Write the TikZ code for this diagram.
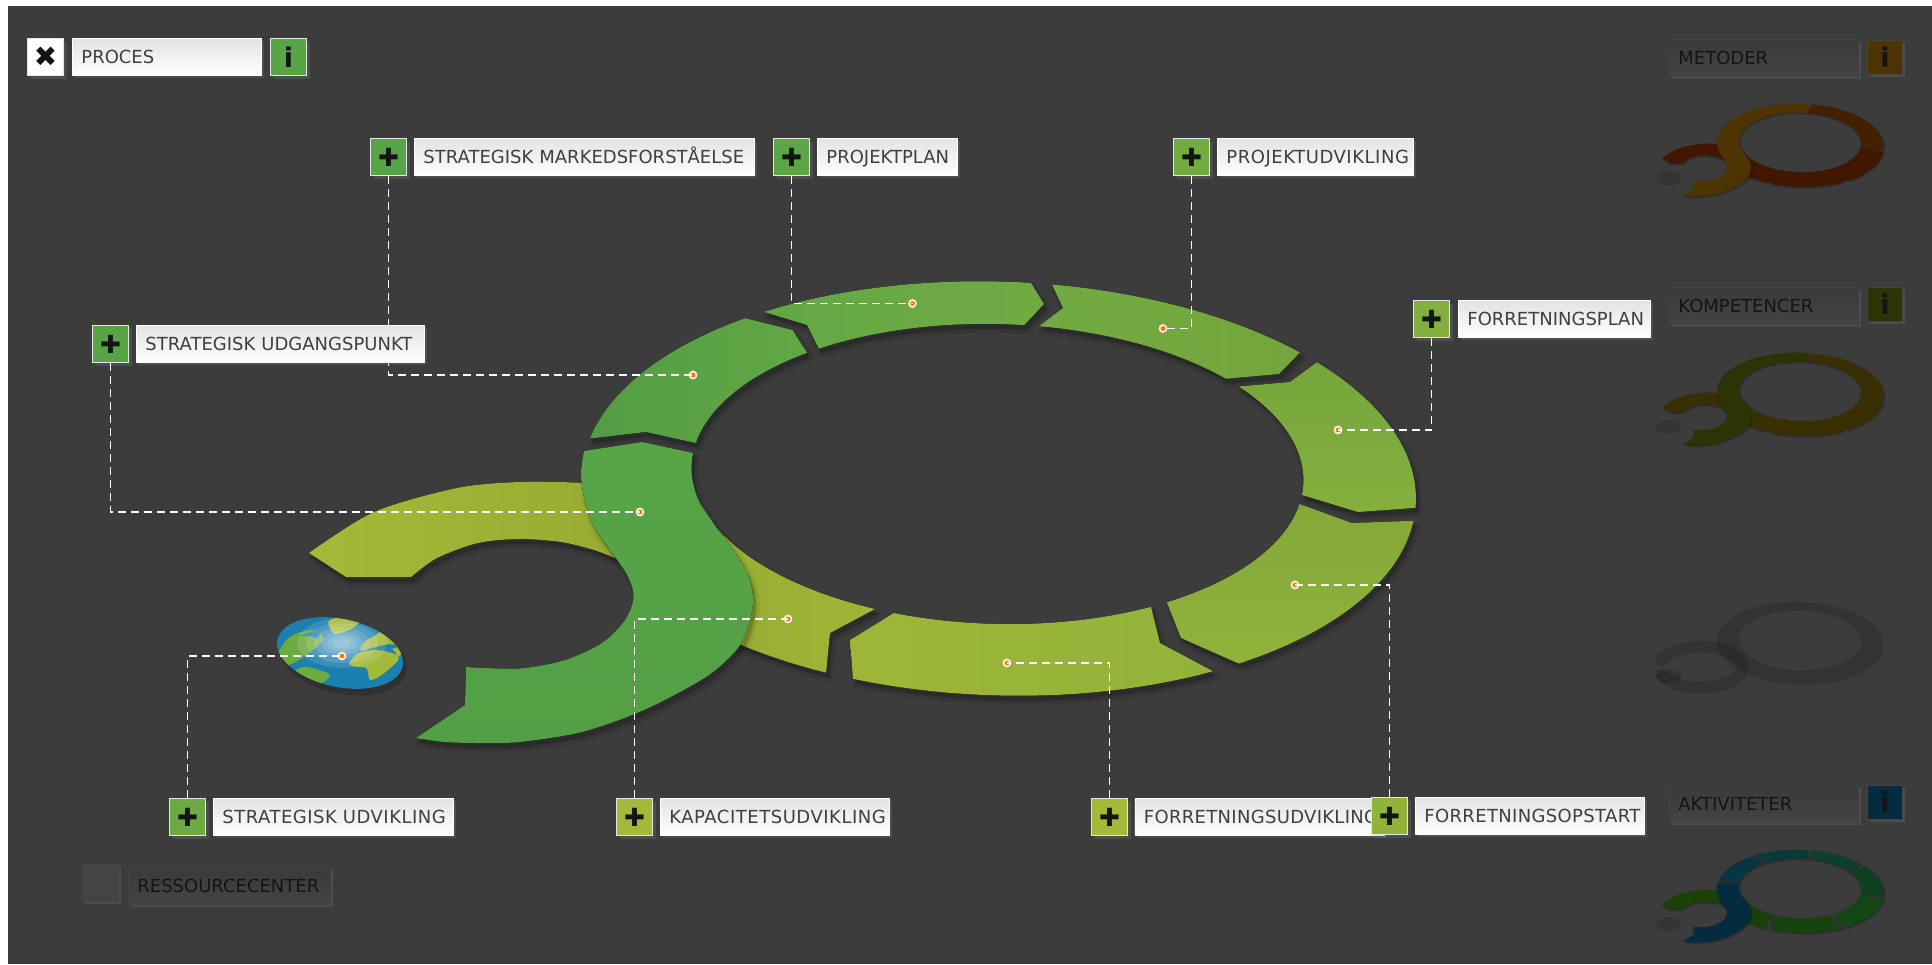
\documentclass[tikz,border=0pt]{standalone}
\usepackage{fontspec}
\setmainfont{DejaVu Sans}
\usetikzlibrary{shadows}
\definecolor{bgd}{HTML}{3C3C3C}
\definecolor{gS}{HTML}{58A548}
\definecolor{gSb}{HTML}{529F45}
\definecolor{oliveA}{HTML}{A4B937}
\definecolor{oliveB}{HTML}{9EB637}
\definecolor{txt}{HTML}{3F3F3F}
\definecolor{dtxt}{HTML}{141414}
\definecolor{dimband}{HTML}{3A3A3A}
\definecolor{dimfill}{HTML}{444444}
\definecolor{mB}{HTML}{4E3402}
\definecolor{mR}{HTML}{422000}
\definecolor{mD}{HTML}{421700}
\definecolor{kG}{HTML}{2A3405}
\definecolor{kO}{HTML}{3A2F03}
\definecolor{aA}{HTML}{042C40}
\definecolor{aB}{HTML}{083640}
\definecolor{aC}{HTML}{0A3A38}
\definecolor{aD}{HTML}{0C402A}
\definecolor{aE}{HTML}{0D4020}
\definecolor{aF}{HTML}{134515}
\definecolor{aG}{HTML}{17430E}
\definecolor{aH}{HTML}{1A4207}
\definecolor{seablue}{HTML}{1B7FB0}
\definecolor{landA}{HTML}{A2B93A}
\definecolor{landB}{HTML}{6CAB3F}
\def\ox{999+417*cos(\x)}
\def\oy{488.5+207*sin(\x)+10*cos(\x)}
\def\ix{997.5+306*cos(\x)}
\def\iy{474+150*sin(\x)+6.1*cos(\x)}
\def\shw{1}
\def\patches{}
\newcommand\seg[2]{%
  \fill[black,opacity=.05,draw=black,line width=\shw*9pt,line join=round,shift={(3,5)}] #2;
  \fill[black,opacity=.07,draw=black,line width=\shw*4pt,line join=round,shift={(3,5)}] #2;
  \fill[black,opacity=.09,shift={(2,4)}] #2;
  \fill[#1] #2;}
\newcommand\rp[3]{\fill[#1] plot[domain=#2:#3]({\ox},{\oy}) -- plot[domain=#3:#2]({\ix},{\iy}) -- cycle;}
\newcommand\logo{%
  \seg{s7}{plot[domain=113.6:160]({\ix},{\iy}) -- plot[domain=145:114.5]({\ox},{\oy}) -- (830,633) -- cycle}
  \seg{s0}{plot[smooth] coordinates {(309,553)(374,512)(457,488)(519.5,482)(582,483)(640,490)} -- (640,560) -- plot[smooth] coordinates {(615,558)(594,550)(561,542)(519.5,539)(478,543)(437,558)(411,577)} -- (346,577) -- cycle}
  \seg{s2}{plot[domain=-168.8:-127.5]({\ox},{\oy}) -- (792.5,330) -- plot[domain=-128.5:-170.4]({\ix},{\iy}) -- (646,432) -- cycle}
  \seg{s1}{plot[domain=-124.3:-85.6]({\ox},{\oy}) -- (1044,304) -- plot[domain=-85:-125.7]({\ix},{\iy}) -- (807,325) -- cycle}
  \seg{s3}{plot[domain=-82.7:-43.8]({\ox},{\oy}) -- (1279,374) -- plot[domain=-41.7:-82.2]({\ix},{\iy}) -- (1063,308) -- cycle}
  \seg{s4}{plot[domain=-40.3:2.6]({\ox},{\oy}) -- (1358,512) -- plot[domain=5.7:-38]({\ix},{\iy}) -- (1290,382) -- cycle}
  \seg{s5}{plot[domain=6.2:54.9]({\ox},{\oy}) -- (1181,638) -- plot[domain=56.4:9.2]({\ix},{\iy}) -- (1352,523) -- cycle}
  \seg{s6}{plot[domain=59.1:110.5]({\ox},{\oy}) -- (850,640) -- plot[domain=109.8:59.9]({\ix},{\iy}) -- (1160,643) -- cycle}
  \patches
  \seg{sS}{(584,451) -- (642,442) -- plot[domain=185.7:166]({\ix},{\iy}) -- plot[smooth] coordinates {(718,530)(735,552)(748,575)(753,597)(750,620)(738,648)(706,677)(644,710)(582,732)(519.5,742)(478,743)(445,742)(416,738)} -- (465,705) -- plot[smooth] coordinates {(466,667)(519.5,668.5)(565,660)(602,643)(625,620)(633.5,597)(626,573)(594,527)(584,497)(581,473)(584,451)} -- cycle}
}
\newcommand\ls[2]{{\addfontfeature{LetterSpace=#1}#2}}
\tikzset{
  every plot/.style={samples=24},
  conn/.style={draw=white,line width=1.6pt,dash pattern=on 8pt off 5pt},
  dotn/.style={circle,inner sep=0pt,minimum size=7pt,fill=orange!90!red,draw=orange!15!white,line width=1.8pt,drop shadow={shadow xshift=2pt,shadow yshift=-2pt,opacity=.25}},
  lab/.style={anchor=north west,minimum height=37pt,inner xsep=9pt,inner ysep=0pt,text height=13.5pt,text depth=0pt,align=left,top color=black!11,bottom color=white,draw=white,line width=.8pt,text=txt,font=\fontsize{18}{20}\selectfont,drop shadow={shadow xshift=3pt,shadow yshift=-3pt,opacity=.25}},
  dimlab/.style={lab,top color=dimband,bottom color=dimfill,draw=dimfill,text=dtxt},
  btn/.style={anchor=north west,minimum width=36pt,minimum height=37pt,inner sep=0pt,draw=white!90!black,line width=1pt,fill=#1,text=black!92,font=\fontsize{25}{25}\selectfont,drop shadow={shadow xshift=3pt,shadow yshift=-3pt,opacity=.25}},
  ibtn/.style={btn=#1,font=\fontsize{27}{27}\bfseries\selectfont},
  dimibtn/.style={anchor=north west,minimum width=35pt,minimum height=34pt,inner sep=0pt,fill=#1,draw=dimfill,line width=.8pt,text=black!92,font=\fontsize{27}{27}\bfseries\selectfont,drop shadow={shadow xshift=3pt,shadow yshift=-3pt,opacity=.25}},
}
\begin{document}
\begin{tikzpicture}[x=1pt,y=-1pt]
\useasboundingbox (0,0) rectangle (1932,964);
\fill[white] (0,0) rectangle (1932,964);
\fill[bgd] (8,6) rectangle (1932,964);

% main figure
\begin{scope}[
  s0/.style={left color=oliveA,right color=oliveA!92!black},
  s7/.style={left color=oliveA!92!black,right color=oliveB},
  sS/.style={top color=gS,bottom color=gSb},
  s2/.style={left color=gS!95!black,right color=gS!85!oliveB},
  s1/.style={left color=gS!85!oliveB,right color=gS!65!oliveB},
  s3/.style={left color=gS!65!oliveB,right color=gS!50!oliveB!95!black},
  s4/.style={top color=gS!50!oliveB!95!black,bottom color=gS!35!oliveB},
  s5/.style={top color=gS!30!oliveB!95!black,bottom color=gS!20!oliveB},
  s6/.style={left color=oliveB,right color=gS!18!oliveB},
]
\logo
\end{scope}

% globe
\fill[black,opacity=.2,rotate around={-12:(343,658)}] (343,658) ellipse [x radius=65,y radius=36];
\begin{scope}
\clip[rotate around={-12:(340,653)}] (340,653) ellipse [x radius=64,y radius=34];
\fill[seablue] (270,610) rectangle (410,695);
\begin{scope}[shift={(265,605)},scale=.3333]
\fill[landB] plot[smooth cycle] coordinates {(30,170)(60,110)(95,85)(150,75)(175,100)(150,130)(110,160)(70,180)};
\fill[seablue] plot[smooth cycle] coordinates {(95,92)(130,85)(165,70)(160,100)(130,92)};
\fill[landA] plot[smooth cycle] coordinates {(190,50)(230,35)(285,38)(270,65)(225,85)(205,85)};
\fill[landA] plot[smooth cycle] coordinates {(285,135)(300,110)(340,85)(370,60)(400,85)(420,125)(400,155)(385,135)(340,125)(300,135)};
\fill[landA] plot[smooth cycle] coordinates {(252,175)(280,145)(330,135)(385,145)(400,165)(350,210)(315,225)(305,190)(270,185)};
\fill[seablue] plot[smooth cycle] coordinates {(330,128)(370,118)(405,122)(370,134)};
\fill[landB] plot[smooth cycle] coordinates {(85,205)(120,185)(195,210)(150,245)(110,230)};
\end{scope}
\foreach \r in {45,36,28,21,15,9}{\fill[white,opacity=.13] (342,643) ellipse [x radius=\r,y radius=\r*.55];}
\end{scope}

% small figures
\begin{scope}[shift={(1600.6,47.6)},scale=.2,
  s0/.style={fill=mD},s7/.style={fill=mD},
  sS/.style={fill=mB},s2/.style={fill=mB},s1/.style={fill=mB},
  s3/.style={fill=mR},s4/.style={fill=mR},
  s5/.style={fill=mD},s6/.style={fill=mD}]
\def\shw{.4}
\def\patches{\rp{mB}{-174}{-84}\rp{mR}{-82}{3}\rp{mD}{7}{140}}
\logo
\fill[black,opacity=.12] (340,653) ellipse [x radius=63,y radius=35];
\end{scope}
\begin{scope}[shift={(1600.6,296.6)},scale=.2,
  s0/.style={fill=kO},s7/.style={fill=kO},
  sS/.style={fill=kG},s2/.style={fill=kG},s1/.style={fill=kG},
  s3/.style={fill=kO},s4/.style={fill=kO},
  s5/.style={fill=kO},s6/.style={fill=kO}]
\def\shw{.4}
\def\patches{\rp{kG}{-174}{-84}\rp{kO}{-82}{3}\rp{kO}{7}{140}}
\logo
\fill[black,opacity=.12] (340,653) ellipse [x radius=63,y radius=35];
\end{scope}
\begin{scope}[shift={(1600.6,545.6)},scale=.2]
\fill[even odd rule,black,opacity=.14] plot[domain=0:360,samples=60]({\ox},{\oy}) -- cycle plot[domain=0:360,samples=60]({\ix},{\iy}) -- cycle;
\draw[black,opacity=.14,line width=12pt,line cap=round] plot[domain=-160:160,samples=40]({500+210*cos(\x)},{608+102*sin(\x)});
\fill[black,opacity=.14] (340,653) ellipse [x radius=63,y radius=35];
\end{scope}
\begin{scope}[shift={(1600.6,793.6)},scale=.2,
  s0/.style={fill=aH},s7/.style={fill=aH},
  sS/.style={fill=aA},s2/.style={fill=aB},s1/.style={fill=aC},
  s3/.style={fill=aD},s4/.style={fill=aE},
  s5/.style={fill=aF},s6/.style={fill=aG}]
\def\shw{.4}
\logo
\fill[black,opacity=.12] (340,653) ellipse [x radius=63,y radius=35];
\end{scope}

% anchors on the ring
\node[dotn] (d1) at (640,512) {};
\node[dotn] (d2) at (693,375) {};
\node[dotn] (d3) at (912.5,303.5) {};
\node[dotn] (d4) at (1163,328.5) {};
\node[dotn] (d5) at (1338,430) {};
\node[dotn] (d6) at (1295,585) {};
\node[dotn] (d7) at (1007,663) {};
\node[dotn] (d8) at (788,619) {};
\node[dotn] (d9) at (342,656) {};

% buttons
\node[btn=gS] (b2) at (370,138) {✚};
\node[btn=gS!95!oliveA] (b3) at (773,138) {✚};
\node[btn=gS!65!oliveB] (b4) at (1173,138) {✚};
\node[btn=gS!40!oliveB] (b5) at (1413,300) {✚};
\node[btn=oliveA] (b7) at (1091,798) {✚};
\node[btn=oliveA] (b8) at (616,798) {✚};
\node[btn=gS!70!oliveB] (b9) at (169,798) {✚};
\node[btn=gS] (b1) at (92,325) {✚};

\draw[conn] (b1.south) |- (d1.center);
\draw[conn] (b2.south) |- (d2.center);
\draw[conn] (b3.south) |- (d3.center);
\draw[conn] (b4.south) |- (d4.center);
\draw[conn] (b5.south) |- (d5.center);
\draw[conn] (b7.north) |- (d7.center);
\draw[conn] (b8.north) |- (d8.center);
\draw[conn] (b9.north) |- (d9.center);

% labels
\node[lab,text width=171pt] (pl) at (72,38) {\mbox{PROCES}};
\node[btn=white,font=\fontsize{28}{28}\selectfont] (px) at (27,38) {✖};
\node[ibtn=gS] (pi) at (270,38) {i};

\node[lab,text width=270pt] (l1) at (136,325) {\mbox{STRATEGISK UDGANGSPUNKT}};
\node[lab,text width=322pt] (l2) at (414,138) {\mbox{STRATEGISK MARKEDSFORSTÅELSE}};
\node[lab,text width=122pt] (l3) at (817,138) {\mbox{PROJEKTPLAN}};
\node[lab,text width=178pt] (l4) at (1217,138) {\mbox{\ls{3}{PROJEKTUDVIKLING}}};
\node[lab,text width=174pt] (l5) at (1458,300) {\mbox{FORRETNINGSPLAN}};
\node[lab,text width=222pt] (l9) at (213,798) {\mbox{\ls{2.8}{STRATEGISK UDVIKLING}}};
\node[lab,text width=211pt] (l8) at (660,798) {\mbox{\ls{2.9}{KAPACITETSUDVIKLING}}};
\node[lab,text width=231pt] (l7) at (1134.5,798) {\mbox{\ls{1.7}{FORRETNINGSUDVIKLING}}};
\node[btn=gS!20!oliveB] (b6) at (1371,797) {✚};
\draw[conn] (b6.north) |- (d6.center);
\node[lab,text width=211pt] (l6) at (1415,797) {\mbox{\ls{1.9}{FORRETNINGSOPSTART}}};

% dimmed items
\node[dimlab,text width=171pt] (m1) at (1669,39) {\mbox{METODER}};
\node[dimibtn=mB] (m1i) at (1867,40) {i};
\node[dimlab,text width=171pt] (m2) at (1669,287) {\mbox{KOMPETENCER}};
\node[dimibtn=kG] (m2i) at (1867,287) {i};
\node[dimlab,text width=171pt] (m3) at (1669,785) {\mbox{AKTIVITETER}};
\node[dimibtn=aA] (m3i) at (1867,785) {i};
\node[dimlab,text width=184pt] (r1) at (128,867) {\mbox{RESSOURCECENTER}};
\node[dimibtn=dimfill,minimum width=36pt,minimum height=37pt] (r0) at (82,864) {};
\end{tikzpicture}
\end{document}
